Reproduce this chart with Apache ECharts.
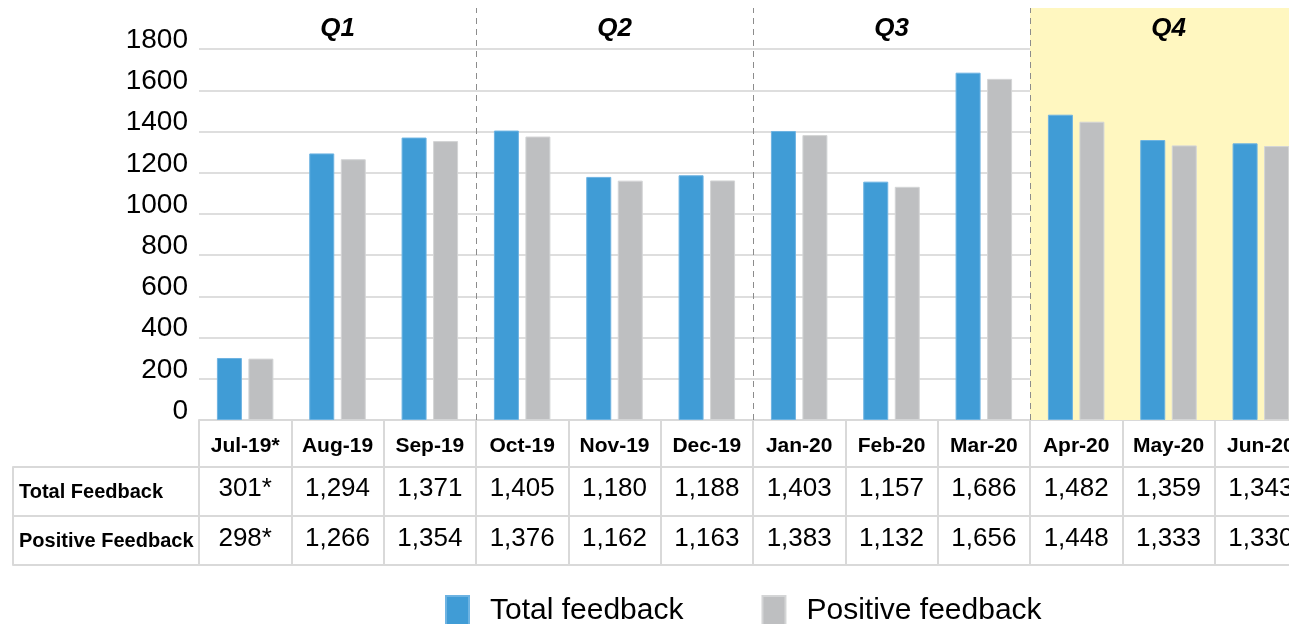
<!DOCTYPE html>
<html>
<head>
<meta charset="utf-8">
<script src="https://cdn.jsdelivr.net/npm/echarts@6/dist/echarts.min.js"></script>
<style>
  html, body { margin: 0; padding: 0; background: #fff; }
  #main { width: 1289px; height: 624px; }
</style>
</head>
<body>
<div id="main"></div>
<script>
var months = ['Jul-19*', 'Aug-19', 'Sep-19', 'Oct-19', 'Nov-19', 'Dec-19',
  'Jan-20', 'Feb-20', 'Mar-20', 'Apr-20', 'May-20', 'Jun-20'];
var totalFeedback = [301, 1294, 1371, 1405, 1180, 1188, 1403, 1157, 1686, 1482, 1359, 1343];
var positiveFeedback = [298, 1266, 1354, 1376, 1162, 1163, 1383, 1132, 1656, 1448, 1333, 1330];
var quarters = ['Q1', 'Q2', 'Q3', 'Q4'];
var partialMonths = [0]; // marked with *
var yTicks = [0, 200, 400, 600, 800, 1000, 1200, 1400, 1600, 1800];

var chartDom = document.getElementById('main');
var myChart = echarts.init(chartDom);
var option;

var lineGray = '#d9d9d9';
var numFont = "'Liberation Sans', Arial, sans-serif";

function tableCells(arr) {
  return arr.map(function (v, i) {
    return v.toLocaleString('en-US') + (partialMonths.indexOf(i) >= 0 ? '*' : '');
  });
}

// quarter bands on a hidden 0..12 value axis
var bands = quarters.map(function (q, i) {
  var start = { xAxis: i * 3, name: q };
  if (i === 3) start.itemStyle = { color: '#fff7c0' };
  return [start, { xAxis: i * 3 + 3 }];
});

function tableAxis(gridIndex, offset, data, extra) {
  var ax = {
    type: 'category',
    gridIndex: gridIndex,
    position: 'bottom',
    offset: offset,
    data: data,
    axisLine: { onZero: false, lineStyle: { color: lineGray, width: 2 } },
    axisTick: { show: false },
    axisLabel: { show: false }
  };
  return Object.assign(ax, extra || {});
}

var rowName = {
  align: 'left', verticalAlign: 'top', lineHeight: 50,
  fontSize: 20, fontWeight: 'bold', color: '#000'
};

option = {
  animation: false,
  textStyle: { fontFamily: numFont },
  grid: [
    { left: 199, top: 8, width: 1108, height: 412, outerBoundsMode: 'none' },
    { left: 13, top: 8, width: 186, height: 412, outerBoundsMode: 'none' }
  ],
  legend: {
    data: ['Total feedback', 'Positive feedback'],
    left: 445,
    top: 595,
    padding: 0,
    icon: 'rect',
    itemWidth: 23,
    itemHeight: 30,
    itemGap: 78,
    textStyle: { fontSize: 30, color: '#000', padding: [0, 0, 0, 16], fontFamily: numFont }
  },
  xAxis: [
    tableAxis(0, 0, months, {
      axisTick: { show: true, length: 145, lineStyle: { color: lineGray, width: 2 } },
      axisLabel: {
        color: '#000', fontSize: 21, fontWeight: 'bold',
        verticalAlign: 'middle', margin: 26, interval: 0
      }
    }),
    {
      type: 'value',
      gridIndex: 0,
      position: 'top',
      min: 0,
      max: 12,
      show: false
    },
    tableAxis(0, 47, tableCells(totalFeedback), {
      axisLabel: { color: '#000', fontSize: 26, verticalAlign: 'middle', margin: 22, interval: 0 },
      name: 'Total Feedback',
      nameLocation: 'start',
      nameGap: 180,
      nameTextStyle: rowName
    }),
    tableAxis(0, 96, tableCells(positiveFeedback), {
      axisLabel: { color: '#000', fontSize: 26, verticalAlign: 'middle', margin: 23, interval: 0 },
      name: 'Positive Feedback',
      nameLocation: 'start',
      nameGap: 180,
      nameTextStyle: rowName
    }),
    tableAxis(0, 145, months),
    // left column frame of the table
    tableAxis(1, 47, [''], {
      axisTick: { show: true, length: 98, lineStyle: { color: lineGray, width: 2 } }
    }),
    tableAxis(1, 96, ['']),
    tableAxis(1, 145, [''])
  ],
  yAxis: [
    {
      type: 'value',
      gridIndex: 0,
      min: 0,
      max: 2000,
      interval: 200,
      axisLine: { show: false },
      axisTick: { show: false },
      axisLabel: {
        color: '#000', fontSize: 28, margin: 11,
        verticalAlign: 'bottom', lineHeight: 18,
        formatter: function (v) { return yTicks.indexOf(v) >= 0 ? String(v) : ''; }
      },
      splitLine: { showMaxLine: false, lineStyle: { color: '#dedede', width: 2 } }
    },
    { type: 'value', gridIndex: 1, min: 0, max: 1, show: false }
  ],
  series: [
    {
      name: 'quarters',
      type: 'line',
      xAxisIndex: 1,
      yAxisIndex: 0,
      data: [],
      z: 1,
      silent: true,
      markArea: {
        silent: true,
        itemStyle: { color: 'rgba(0,0,0,0)' },
        label: {
          show: true,
          position: 'insideTop',
          distance: 8,
          formatter: '{b}',
          color: '#000',
          fontSize: 26,
          fontWeight: 'bold',
          fontStyle: 'italic'
        },
        data: bands
      },
      markLine: {
        silent: true,
        symbol: 'none',
        label: { show: false },
        lineStyle: { color: '#8c8c8c', type: [6, 5], width: 1 },
        data: [{ xAxis: 3 }, { xAxis: 6 }, { xAxis: 9 }]
      }
    },
    {
      name: 'Total feedback',
      type: 'bar',
      xAxisIndex: 0,
      yAxisIndex: 0,
      data: totalFeedback,
      barWidth: 25,
      barGap: '26%',
      z: 3,
      itemStyle: { color: '#409cd6', borderColor: '#6db3e2', borderWidth: 1 }
    },
    {
      name: 'Positive feedback',
      type: 'bar',
      xAxisIndex: 0,
      yAxisIndex: 0,
      data: positiveFeedback,
      barWidth: 25,
      z: 3,
      itemStyle: { color: '#bebfc1', borderColor: '#d4d5d6', borderWidth: 1 }
    }
  ]
};

option && myChart.setOption(option);
</script>
</body>
</html>
